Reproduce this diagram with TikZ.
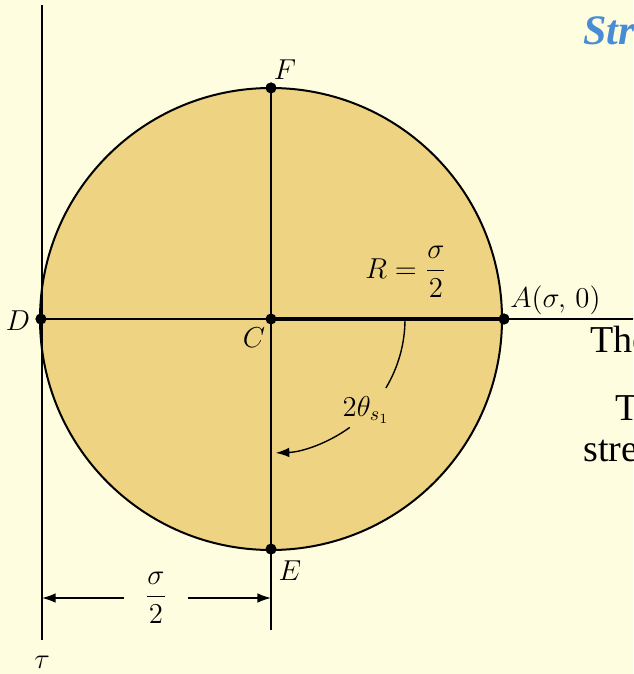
\documentclass[tikz,border=0pt]{standalone}
\usepackage{amsmath}
\usepackage{fontspec}
\usepackage{tikz}
\usetikzlibrary{arrows.meta,positioning,calc}
\newfontfamily\slidefont{Liberation Serif}
\definecolor{slidebg}{RGB}{255,253,224}
\definecolor{disk}{RGB}{238,211,130}
\definecolor{ttlblue}{RGB}{72,140,214}

\begin{document}
\begin{tikzpicture}[
 x=0.5pt,y=-0.5pt,
 lbl/.style={font=\Large,inner sep=1pt},
 dot/.style={circle,fill=black,inner sep=0pt,minimum size=5.5pt},
 ln/.style={line width=1pt},
 arr/.style={-{Latex[length=2.4mm,width=1.7mm]},line width=0.7pt},
 txt/.style={font=\slidefont\fontsize{19}{22}\selectfont,anchor=base west,inner sep=0pt}
]
\useasboundingbox (0,0) rectangle (633,674);
\clip (0,0) rectangle (633,674);
\fill[slidebg] (0,0) rectangle (633,674);

% points of the circle
\node[dot] (C) at (271,319) {};
\node[dot] (A) at (504,319) {};
\node[dot] (D) at (41,319) {};
\node[dot] (F) at (271,88) {};
\node[dot] (E) at (271,549) {};
\coordinate (sigEnd) at (640,319);
\coordinate (tauTop) at (42,5);
\coordinate (tauBot) at (42,640);
\coordinate (extE) at (271,630);

\fill[disk] (C.center) circle[radius=115.5pt];
\draw[ln] (C.center) circle[radius=115.5pt];
\draw[ln] (tauTop) -- (tauBot);
\draw[ln] (D.center) -- (A.center) -- (sigEnd);
\draw[line width=1.8pt] (C.center) -- (A.center);
\draw[ln] (F.center) -- (E.center) -- (extE);
\foreach \p in {C,A,D,F,E} \node[dot] at (\p) {};

% angle arc
\draw[line width=0.7pt] (C.center) ++(0:67pt) arc[start angle=0,end angle=-31,radius=67pt];
\draw[arr] (C.center) ++(-54:67pt) arc[start angle=-54,end angle=-88,radius=67pt];

% labels
\node[lbl] (lF) at (285,70) {$F$};
\node[lbl] (lE) at (290,571) {$E$};
\node[lbl] (lD) at (18,321) {$D$};
\node[lbl] (lC) at (254,338) {$C$};
\node[lbl,anchor=west] (lA) at (508,300) {$A(\sigma,\,0)$};
\node[lbl] (lR) at (406,272) {$R=\dfrac{\sigma}{2}$};
\node[lbl] (lang) at (366,410) {$2\theta_{s_1}$};
\node[lbl] (ltau) at (42,662) {$\tau$};

% dimension
\coordinate (dL) at (42,598);
\coordinate (dR) at (271,598);
\node[lbl,minimum width=32pt] (half) at (156,598) {$\dfrac{\sigma}{2}$};
\draw[arr] (half.west) -- (dL);
\draw[arr] (half.east) -- (dR);

% slide text at the edge
\node[txt,font=\slidefont\bfseries\itshape\fontsize{21}{24}\selectfont,text=ttlblue] (ttl) at (583,45) {Str};
\node[txt] (p1) at (590,352) {The};
\node[txt] (p2) at (615,420) {T};
\node[txt] (p3) at (583,461) {stre};
\end{tikzpicture}
\end{document}
